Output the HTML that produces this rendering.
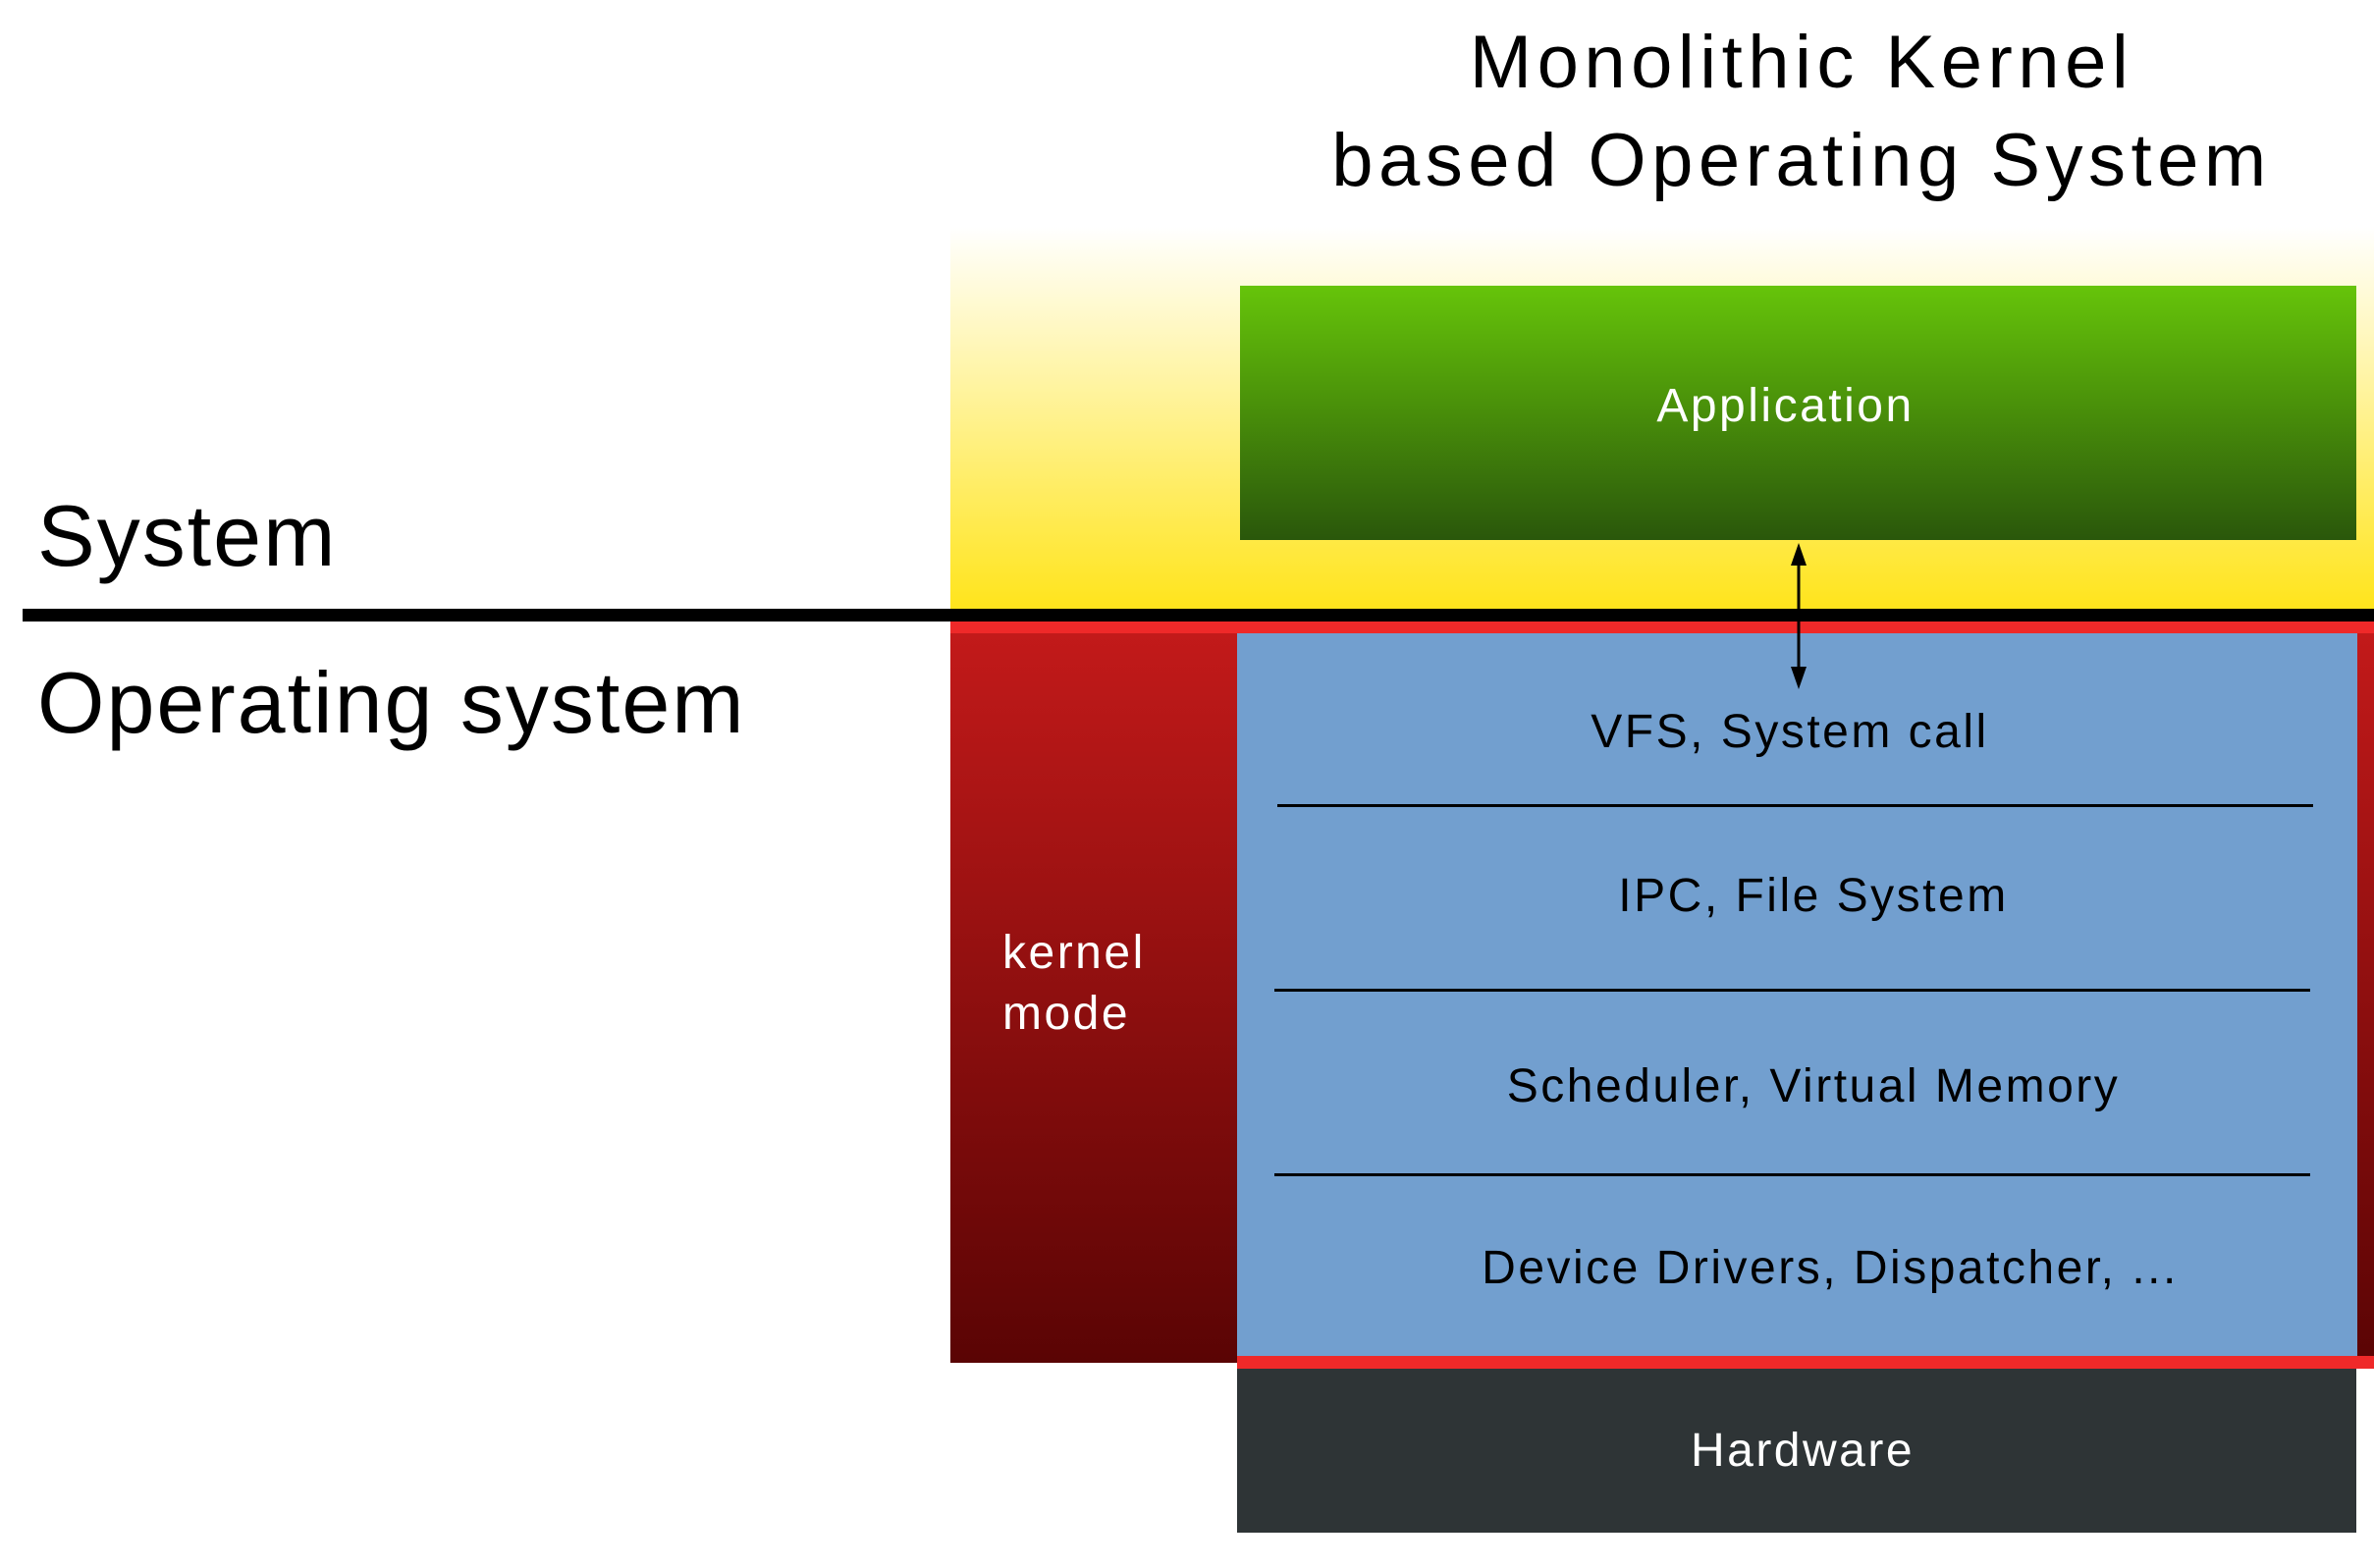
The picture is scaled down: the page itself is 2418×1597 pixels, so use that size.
<!DOCTYPE html>
<html><head><meta charset="utf-8"><style>
body{margin:0;width:2418px;height:1597px;background:#fff;position:relative;overflow:hidden;font-family:"Liberation Sans",sans-serif}
div{position:absolute}
.t{text-align:center;white-space:nowrap;letter-spacing:2.5px}
</style></head><body>
<div class="t" style="left:1235px;width:1200px;top:14px;font-size:76px;line-height:100px;color:#000;letter-spacing:5.5px">Monolithic Kernel<br>based Operating System</div>
<div style="left:968px;top:231px;width:1450px;height:392px;background:linear-gradient(#fff,#ffe41a)"></div>
<div style="left:1263px;top:291px;width:1137px;height:259px;background:linear-gradient(#66c40a,#2a570b)"></div>
<div class="t" style="left:1250px;width:1137px;top:386px;font-size:48px;color:#fff">Application</div>
<div style="left:968px;top:633px;width:1450px;height:755px;background:linear-gradient(#c41a1a,#5a0404)"></div>
<div style="left:968px;top:633px;width:1450px;height:12px;background:#ef2929"></div>
<div style="left:1260px;top:645px;width:1141px;height:736px;background:#729fcf"></div>
<div style="left:1260px;top:1381px;width:1158px;height:13px;background:#ef2929"></div>
<div style="left:1260px;top:1394px;width:1140px;height:167px;background:#2e3436"></div>
<div class="t" style="left:1266px;width:1140px;top:1450px;font-size:48px;color:#fff">Hardware</div>
<div style="left:23px;top:620px;width:2395px;height:13px;background:#000"></div>
<div style="left:38px;top:495px;font-size:88px;color:#000;letter-spacing:2px">System</div>
<div style="left:38px;top:665px;font-size:88px;color:#000;letter-spacing:2px">Operating system</div>
<div style="left:1021px;top:940px;font-size:48px;line-height:62px;color:#fff;letter-spacing:2.5px">kernel<br>mode</div>
<div style="left:1301px;top:819px;width:1055px;height:3px;background:#000"></div>
<div style="left:1298px;top:1007px;width:1055px;height:3px;background:#000"></div>
<div style="left:1298px;top:1195px;width:1055px;height:3px;background:#000"></div>
<div class="t" style="left:1423px;width:800px;top:718px;font-size:48px;color:#000">VFS, System call</div>
<div class="t" style="left:1447px;width:800px;top:885px;font-size:48px;color:#000">IPC, File System</div>
<div class="t" style="left:1447px;width:800px;top:1079px;font-size:48px;color:#000">Scheduler, Virtual Memory</div>
<div class="t" style="left:1364px;width:1000px;top:1264px;font-size:48px;color:#000">Device Drivers, Dispatcher, ...</div>
<svg style="position:absolute;left:1812px;top:550px" width="40" height="155">
<line x1="20" y1="12" x2="20" y2="143" stroke="#000" stroke-width="3"/>
<polygon points="20,3 12,26 28,26" fill="#000"/>
<polygon points="20,152 12,129 28,129" fill="#000"/>
</svg>
</body></html>
